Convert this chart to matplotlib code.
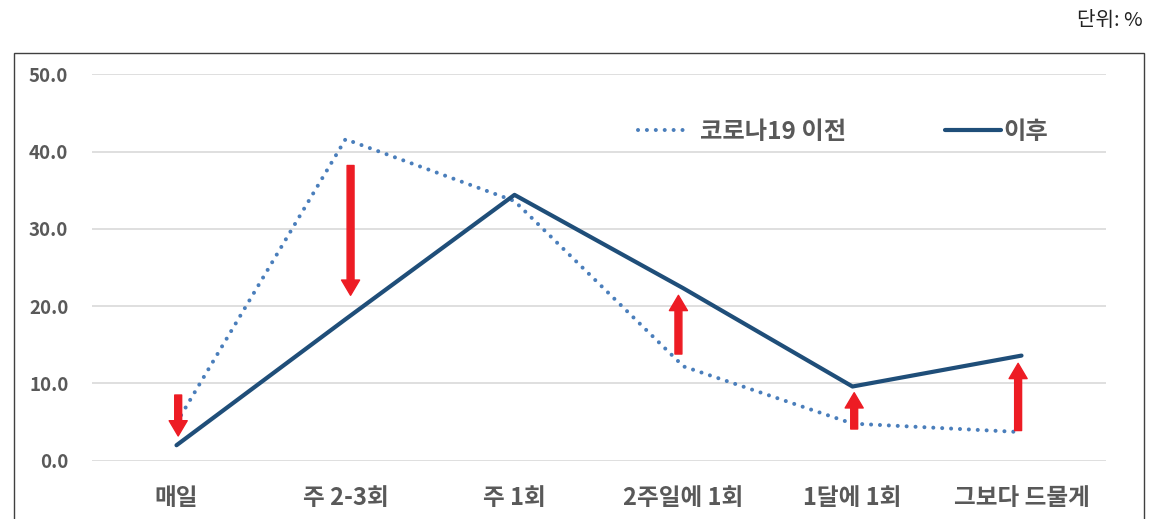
import matplotlib
matplotlib.use("Agg")
import matplotlib.pyplot as plt
from matplotlib.patches import Rectangle

plt.rcParams['font.family'] = ['Noto Sans CJK KR', 'DejaVu Sans']

categories = ["매일", "주 2-3회", "주 1회", "2주일에 1회", "1달에 1회", "그보다 드물게"]
before = [4.9, 41.6, 33.6, 12.2, 4.8, 3.7]   # 코로나19 이전
after = [2.0, 18.3, 34.4, 22.3, 9.6, 13.6]   # 이후

# red arrows (category position, start value, end value)
arrow_x = [0.01, 1.03, 2.97, 4.01, 4.98]
arrow_from = [8.5, 38.2, 13.8, 4.1, 3.9]
arrow_to = [3.2, 21.4, 21.4, 8.8, 12.6]

yticks = [0, 10, 20, 30, 40, 50]

gray = "#595959"

fig = plt.figure(figsize=(11.6, 5.19), dpi=100)
ax = fig.add_axes([92 / 1160, 1 - 460.7 / 519, (1106 - 92) / 1160, (460.7 - 74.3) / 519])

x = list(range(len(categories)))
l1, = ax.plot(x, before, color="#4A7EBB", linewidth=2.9, linestyle=(0, (0.01, 2.2)),
              dash_capstyle="round", label="코로나19 이전", zorder=3)
l2, = ax.plot(x, after, color="#1F4E79", linewidth=3.0, solid_capstyle="round",
              label="이후", zorder=3)

for xa, y0, y1 in zip(arrow_x, arrow_from, arrow_to):
    ax.annotate("", xy=(xa, y1), xytext=(xa, y0),
                arrowprops=dict(color="#ED1C24", width=5, headwidth=13,
                                headlength=11, shrink=0), zorder=4)

ax.set_xlim(-0.5, len(categories) - 0.5)
ax.set_ylim(0, 50)
ax.set_yticks(yticks)
ax.set_yticklabels([f"{v:.1f}" for v in yticks])
ax.set_xticks(x)
ax.set_xticklabels(categories)
ax.grid(axis="y", color="#D9D9D9", linewidth=1.2)
ax.set_axisbelow(True)
for s in ax.spines.values():
    s.set_visible(False)
ax.tick_params(axis="both", length=0, colors=gray)
ax.tick_params(axis="y", pad=17, labelsize=13.5)
ax.tick_params(axis="x", pad=18, labelsize=17)
for t in ax.get_yticklabels() + ax.get_xticklabels():
    t.set_fontweight("bold")

legfont = dict(family=['Noto Sans CJK KR', 'DejaVu Sans'], weight="bold", size=17.5)
ly = (460.7 - 132) / 386.4
leg1 = ax.legend(handles=[l1], loc="center left", bbox_to_anchor=((638 - 92) / 1014, ly),
                 frameon=False, handlelength=2.1, handletextpad=0.45,
                 borderpad=0, borderaxespad=0, prop=legfont)
ax.add_artist(leg1)
leg2 = ax.legend(handles=[l2], loc="center left", bbox_to_anchor=((945 - 92) / 1014, ly),
                 frameon=False, handlelength=2.3, handletextpad=0.12,
                 borderpad=0, borderaxespad=0, prop=legfont)
for leg in (leg1, leg2):
    for t in leg.get_texts():
        t.set_color(gray)

# outer frame
fig.patches.append(Rectangle((14 / 1160, -0.1), (1144 - 14) / 1160, 1.1 - 53 / 519,
                             transform=fig.transFigure, fill=False,
                             edgecolor="#404040", linewidth=1.0))

fig.text(1143 / 1160, 1 - 20 / 519, "단위: %", ha="right", va="center",
         fontsize=14.5, color="#222222")

fig.savefig("out.png", dpi=100)
